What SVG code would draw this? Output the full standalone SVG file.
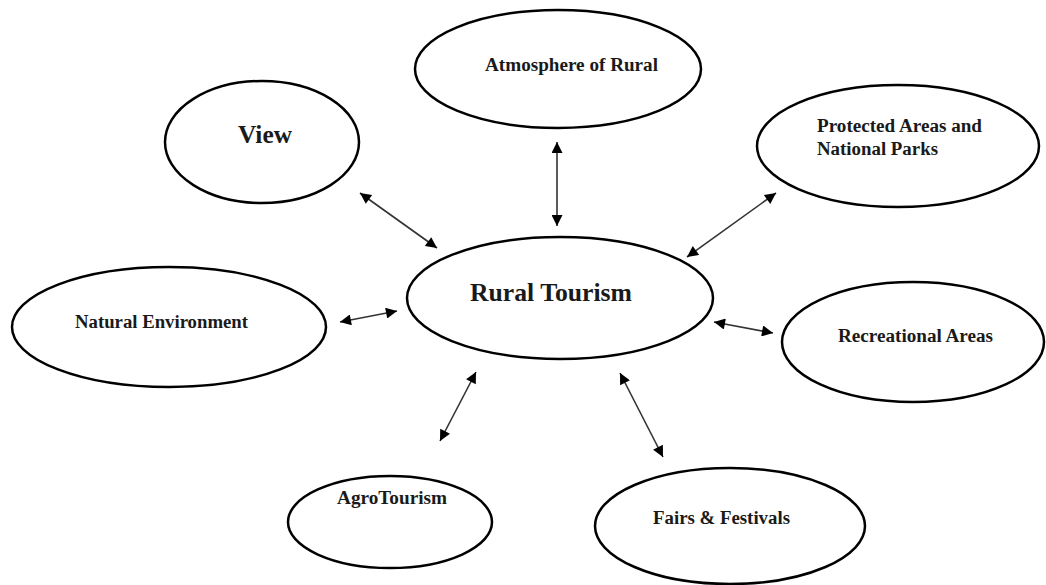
<svg xmlns="http://www.w3.org/2000/svg" width="1046" height="585" viewBox="0 0 1046 585">
<style>
.node ellipse{fill:#fff;stroke:#000;stroke-width:2.5}
.node text{font-family:"Liberation Serif","Times New Roman",serif;font-weight:bold;fill:#1a1a1a;font-size:18px}
.conn line{stroke:#333;stroke-width:1.6;marker-start:url(#ah);marker-end:url(#ah)}
</style>
<defs>
<marker id="ah" viewBox="0 0 10 10" refX="10" refY="5" markerWidth="13" markerHeight="11" markerUnits="userSpaceOnUse" orient="auto-start-reverse">
<path d="M0,0 L10,5 L0,10 z" fill="#000"/>
</marker>
</defs>
<rect width="1046" height="585" fill="#fff"/>
<g id="n-atmosphere" class="node"><ellipse cx="558" cy="69" rx="143" ry="59"/><text x="485" y="71" textLength="173" lengthAdjust="spacingAndGlyphs">Atmosphere of Rural</text></g>
<g id="n-view" class="node"><ellipse cx="262" cy="142" rx="97" ry="61"/><text x="238" y="143" style="font-size:25px" textLength="54" lengthAdjust="spacingAndGlyphs">View</text></g>
<g id="n-protected" class="node"><ellipse cx="898" cy="146" rx="141" ry="61"/><text x="817" y="132" textLength="165" lengthAdjust="spacingAndGlyphs">Protected Areas and</text><text x="817" y="155" textLength="121" lengthAdjust="spacingAndGlyphs">National Parks</text></g>
<g id="n-rural" class="node"><ellipse cx="560" cy="298" rx="153" ry="61"/><text x="470" y="301" style="font-size:25px" textLength="162" lengthAdjust="spacingAndGlyphs">Rural Tourism</text></g>
<g id="n-natural" class="node"><ellipse cx="169" cy="327" rx="157" ry="60"/><text x="75" y="328" textLength="173" lengthAdjust="spacingAndGlyphs">Natural Environment</text></g>
<g id="n-recreational" class="node"><ellipse cx="913" cy="342" rx="131" ry="60"/><text x="838" y="342" textLength="155" lengthAdjust="spacingAndGlyphs">Recreational Areas</text></g>
<g id="n-agro" class="node"><ellipse cx="390" cy="522" rx="102" ry="46"/><text x="337" y="504" textLength="110" lengthAdjust="spacingAndGlyphs">AgroTourism</text></g>
<g id="n-fairs" class="node"><ellipse cx="730" cy="526" rx="135" ry="58"/><text x="653" y="524" textLength="137" lengthAdjust="spacingAndGlyphs">Fairs &amp; Festivals</text></g>
<g id="connectors" class="conn">
<line x1="360" y1="193" x2="437" y2="248"/>
<line x1="557" y1="142" x2="557" y2="226"/>
<line x1="776" y1="193" x2="687" y2="257"/>
<line x1="340" y1="322" x2="397" y2="311"/>
<line x1="714" y1="322" x2="773" y2="333"/>
<line x1="476" y1="372" x2="440" y2="441"/>
<line x1="620" y1="373" x2="663" y2="457"/>
</g>
</svg>
